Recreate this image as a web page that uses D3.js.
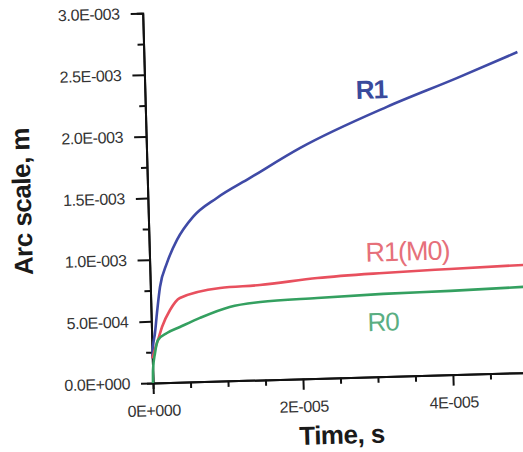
<!DOCTYPE html>
<html><head><meta charset="utf-8">
<script src="https://cdn.jsdelivr.net/npm/d3@7"></script>
<style>body{margin:0;background:#fff}svg{display:block}</style>
</head><body>
<svg id="c" width="523" height="452"></svg>
<script>
// Time values (s) and arc scale values (m)
const r1Time  = [0, 0.013e-5, 0.045e-5, 0.079e-5, 0.129e-5, 0.231e-5, 0.373e-5, 0.595e-5, 0.92e-5, 1.37e-5, 2.05e-5, 3.22e-5, 4.17e-5, 4.98e-5];
const r1Value = [0.20e-3, 0.29e-3, 0.405e-3, 0.567e-3, 0.777e-3, 0.970e-3, 1.154e-3, 1.337e-3, 1.485e-3, 1.640e-3, 1.872e-3, 2.185e-3, 2.404e-3, 2.60e-3];
const r1m0Time  = [0, 0.068e-5, 0.083e-5, 0.141e-5, 0.254e-5, 0.39e-5, 0.93e-5, 1.46e-5, 2.23e-5, 3.11e-5, 4.0e-5, 4.98e-5];
const r1m0Value = [0.20e-3, 0.324e-3, 0.348e-3, 0.452e-3, 0.588e-3, 0.683e-3, 0.755e-3, 0.770e-3, 0.814e-3, 0.840e-3, 0.857e-3, 0.873e-3];
const r0Time  = [0, 0.005e-5, 0.038e-5, 0.083e-5, 0.205e-5, 0.38e-5, 0.65e-5, 1.05e-5, 1.46e-5, 2.22e-5, 3.1e-5, 4.0e-5, 4.97e-5];
const r0Value = [0, 0.105e-3, 0.243e-3, 0.348e-3, 0.402e-3, 0.448e-3, 0.517e-3, 0.599e-3, 0.632e-3, 0.652e-3, 0.670e-3, 0.679e-3, 0.695e-3];
const seriesNames = ["R1", "R1(M0)", "R0"];
const yTickValues = [0, 0.5e-3, 1.0e-3, 1.5e-3, 2.0e-3, 2.5e-3, 3.0e-3];
const yTickLabels = ["0.0E+000", "5.0E-004", "1.0E-003", "1.5E-003", "2.0E-003", "2.5E-003", "3.0E-003"];
const xTickValues = [0, 2e-5, 4e-5];
const xTickLabels = ["0E+000", "2E-005", "4E-005"];
const xTitle = "Time, s";
const yTitle = "Arc scale, m";

const svg = d3.select("#c");
const ox = 153, oy = 383;
const g = svg.append("g").attr("transform", `translate(${ox},${oy}) rotate(-1.6)`);

const x = d3.scaleLinear().domain([0, 5e-5]).range([0, 375]);
const y = d3.scaleLinear().domain([0, 3e-3]).range([0, -370]);
const font = "'Liberation Sans', Arial, sans-serif";

// minor ticks
const xMinor = d3.range(0, 5.01e-5, 0.5e-5).filter(v => !xTickValues.some(t => Math.abs(t - v) < 1e-9));
const yMinor = d3.range(0, 3.01e-3, 0.25e-3).filter(v => !yTickValues.some(t => Math.abs(t - v) < 1e-9));

const xAxisMinor = d3.axisBottom(x).tickValues(xMinor).tickSize(6).tickFormat("");
const xAxis = d3.axisBottom(x).tickValues(xTickValues).tickSize(11).tickPadding(11)
  .tickFormat((d, i) => xTickLabels[i]).tickSizeOuter(0);
const yAxisMinor = d3.axisLeft(y).tickValues(yMinor).tickSize(6).tickFormat("");
const yAxis = d3.axisLeft(y).tickValues(yTickValues).tickSize(12).tickPadding(11)
  .tickFormat((d, i) => yTickLabels[i]).tickSizeOuter(0);

function style(sel) {
  sel.select(".domain").attr("stroke", "#111").attr("stroke-width", 2);
  sel.selectAll(".tick line").attr("stroke", "#111").attr("stroke-width", 2);
  sel.selectAll(".tick text").attr("font-family", font).attr("font-size", 16)
    .attr("fill", "#333").style("letter-spacing", "-0.4px");
}
g.append("g").call(xAxisMinor).call(style);
g.append("g").call(xAxis).call(style);
g.append("g").call(yAxisMinor).call(style);
g.append("g").call(yAxis).call(style);

const line = d3.line().x(d => x(d[0])).y(d => y(d[1])).curve(d3.curveMonotoneX);
const series = [
  {name: seriesNames[0], t: r1Time, v: r1Value, color: "#3f4aa6"},
  {name: seriesNames[1], t: r1m0Time, v: r1m0Value, color: "#e8505e"},
  {name: seriesNames[2], t: r0Time, v: r0Value, color: "#34a060"}
];
series.forEach(s => {
  g.append("path").datum(s.t.map((t, i) => [t, s.v[i]]))
    .attr("fill", "none").attr("stroke", s.color).attr("stroke-width", 2.6)
    .attr("stroke-linejoin", "round").attr("d", line);
});

// series labels
const labels = [
  {text: seriesNames[0], t: 3.02e-5, v: 2.255e-3, color: "#3a4a9c", weight: "bold", size: 26},
  {text: seriesNames[1], t: 3.44e-5, v: 0.935e-3, color: "#e6707a", weight: "normal", size: 27},
  {text: seriesNames[2], t: 3.09e-5, v: 0.37e-3, color: "#5aae82", weight: "normal", size: 26}
];
labels.forEach(l => {
  g.append("text").attr("x", x(l.t)).attr("y", y(l.v)).attr("text-anchor", "middle")
    .attr("font-family", font).attr("font-size", l.size).attr("font-weight", l.weight)
    .attr("fill", l.color).style("letter-spacing", "-1px").text(l.text);
});

// axis titles
g.append("text").attr("x", x(2.5e-5)).attr("y", 66).attr("text-anchor", "middle")
  .attr("font-family", font).attr("font-size", 26).attr("font-weight", "bold")
  .attr("fill", "#1a1a1a").style("letter-spacing", "-0.5px").text(xTitle);
g.append("text").attr("transform", `translate(-117, ${y(1.5e-3)}) rotate(-90)`)
  .attr("text-anchor", "middle")
  .attr("font-family", font).attr("font-size", 26).attr("font-weight", "bold")
  .attr("fill", "#1a1a1a").style("letter-spacing", "-0.5px").text(yTitle);
</script>
</body></html>
